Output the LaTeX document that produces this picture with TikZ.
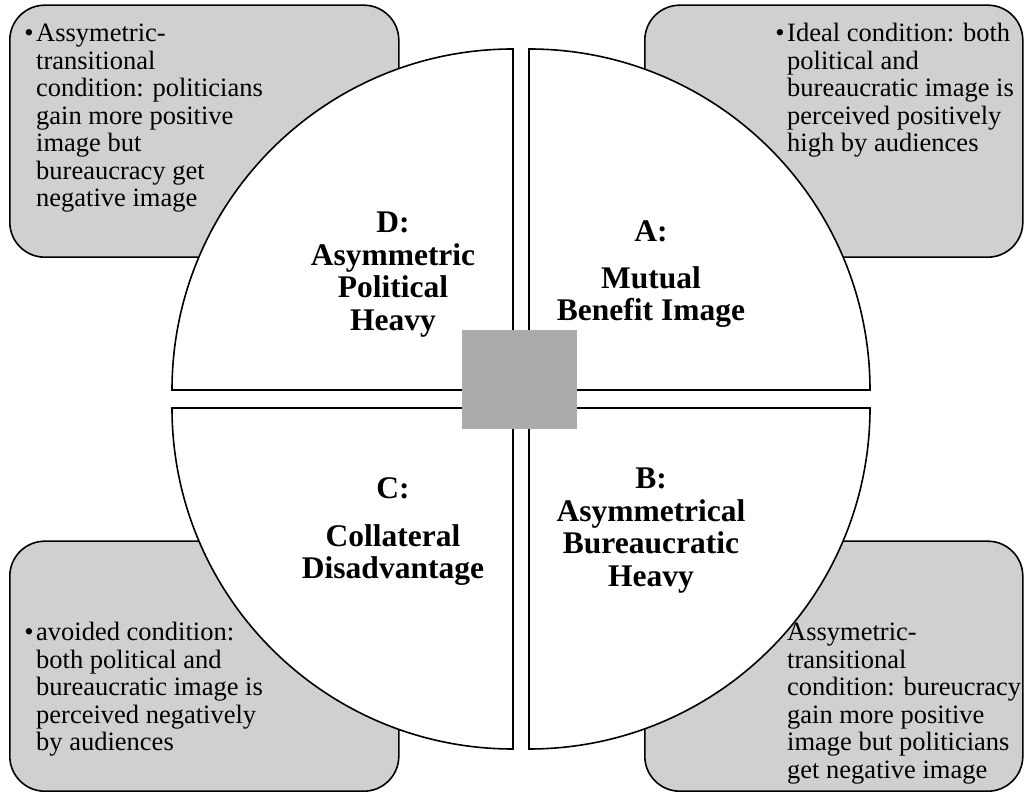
\documentclass[tikz,border=0pt]{standalone}
\usepackage{fontspec}
\setmainfont{Liberation Serif}
\definecolor{cardgray}{HTML}{D0D0D0}
\definecolor{hubgray}{HTML}{ABABAB}
% text of the corner cards: first baseline on the anchor, hanging bullet
\newcommand\cardtext[1]{\parbox[t]{300pt}{\fontsize{26.5}{27.5}\selectfont\raggedright #1}}
% bold quadrant titles, centred
\newcommand\quadtitle[1]{\parbox[t]{300pt}{\centering\bfseries\fontsize{31.5}{32.5}\selectfont #1}}
\newcommand\cardbullet{\leavevmode\llap{\textbullet\kern2.5pt}}
\begin{document}
\begin{tikzpicture}[x=1pt,y=1pt,
  card/.style={draw=black, line width=1.6pt, fill=cardgray, rounded corners=35pt,
               minimum width=389pt, minimum height=252pt, inner sep=0pt, anchor=south west},
  quadrant/.style={draw=black, line width=1.6pt, fill=white},
  note/.style={anchor=base west, inner sep=0pt},
  title/.style={anchor=base, inner sep=0pt},
]
\fill[white] (0,0) rectangle (1024,794);
\useasboundingbox (0,0) rectangle (1024,794);

% corner cards
\node[card] (cardD) at (9,536) {};
\node[card, minimum width=378pt] (cardA) at (644,536) {};
\node[card, minimum height=250pt] (cardC) at (9,2) {};
\node[card, minimum width=378pt, minimum height=250pt] (cardB) at (644,2) {};

\node[note] (noteD) at (36,752) {\cardtext{\cardbullet Assymetric-\\transitional\\condition: politicians\\gain more positive\\image but\\bureaucracy get\\negative image}};
\node[note] (noteA) at (787,752) {\cardtext{\cardbullet Ideal condition: both\\political and\\bureaucratic image is\\perceived positively\\high by audiences}};
\node[note] (noteC) at (36,153) {\cardtext{\cardbullet avoided condition:\\both political and\\bureaucratic image is\\perceived negatively\\by audiences}};
\node[note] (noteB) at (787,153) {\cardtext{Assymetric-\\transitional\\condition: bureucracy\\gain more positive\\image but politicians\\get negative image}};

% the four quarters of the circle
\draw[quadrant] (513,404) -- (172,404) arc[start angle=180, end angle=90, radius=341] -- cycle;
\draw[quadrant] (529,404) -- (870,404) arc[start angle=0, end angle=90, radius=341] -- cycle;
\draw[quadrant] (513,386) -- (172,386) arc[start angle=180, end angle=270, radius=341] -- cycle;
\draw[quadrant] (529,386) -- (870,386) arc[start angle=0, end angle=-90, radius=341] -- cycle;

\node[title] (titleD) at (393,561) {\quadtitle{D:\\Asymmetric\\Political\\Heavy}};
\node[title] (titleA) at (651,552) {\quadtitle{A:\\[14pt]Mutual\\Benefit Image}};
\node[title] (titleC) at (393,295) {\quadtitle{C:\\[15pt]Collateral\\Disadvantage}};
\node[title] (titleB) at (651,305) {\quadtitle{B:\\Asymmetrical\\Bureaucratic\\Heavy}};

% centre hub
\node[fill=hubgray, minimum width=115pt, minimum height=99pt, inner sep=0pt] (hub) at (519.5,414.5) {};
\end{tikzpicture}
\end{document}
